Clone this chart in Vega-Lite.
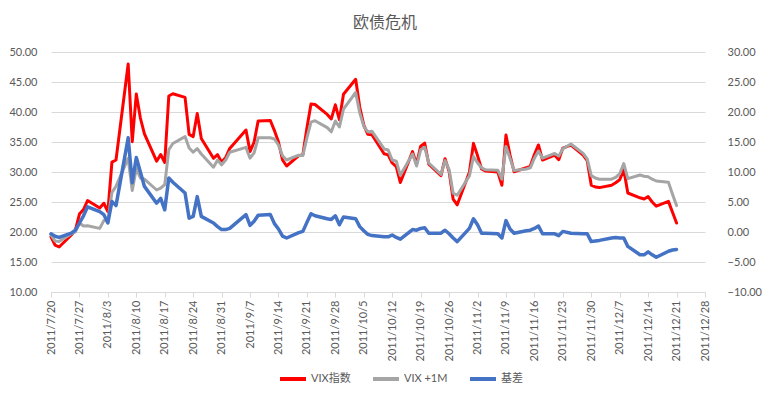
{
  "$schema": "https://vega.github.io/schema/vega-lite/v6.json",
  "width": 654,
  "height": 240,
  "autosize": "none",
  "padding": {"left": 51, "top": 52, "right": 65, "bottom": 105},
  "background": "white",
  "title": {"text": "欧债危机", "font": "Noto Sans CJK SC", "fontSize": 16, "fontWeight": "normal", "color": "#595959", "offset": 15, "dx": 7},
  "config": {"view": {"stroke": null}},
  "data": {"values": [
    {"d":"2011/07/20","vix":19.2,"fut":19.5,"basis":-0.3},
    {"d":"2011/07/21","vix":17.8,"fut":18.5,"basis":-0.7},
    {"d":"2011/07/22","vix":17.5,"fut":18.4,"basis":-0.9},
    {"d":"2011/07/25","vix":19.5,"fut":19.7,"basis":-0.2},
    {"d":"2011/07/26","vix":20.3,"fut":20.0,"basis":0.3},
    {"d":"2011/07/27","vix":22.98,"fut":21.5,"basis":1.5},
    {"d":"2011/07/28","vix":23.74,"fut":21.0,"basis":2.7},
    {"d":"2011/07/29","vix":25.25,"fut":21.05,"basis":4.2},
    {"d":"2011/08/01","vix":23.99,"fut":20.6,"basis":3.4},
    {"d":"2011/08/02","vix":24.79,"fut":21.9,"basis":2.9},
    {"d":"2011/08/03","vix":23.38,"fut":21.9,"basis":1.5},
    {"d":"2011/08/04","vix":31.66,"fut":26.6,"basis":5.1},
    {"d":"2011/08/05","vix":32.0,"fut":27.6,"basis":4.4},
    {"d":"2011/08/08","vix":48.0,"fut":32.3,"basis":15.7},
    {"d":"2011/08/09","vix":35.06,"fut":26.9,"basis":8.2},
    {"d":"2011/08/10","vix":42.99,"fut":30.6,"basis":12.4},
    {"d":"2011/08/11","vix":39.0,"fut":29.0,"basis":10.0},
    {"d":"2011/08/12","vix":36.36,"fut":28.8,"basis":7.6},
    {"d":"2011/08/15","vix":31.8,"fut":27.0,"basis":4.8},
    {"d":"2011/08/16","vix":32.91,"fut":27.3,"basis":5.6},
    {"d":"2011/08/17","vix":31.58,"fut":27.9,"basis":3.7},
    {"d":"2011/08/18","vix":42.67,"fut":33.7,"basis":9.0},
    {"d":"2011/08/19","vix":43.05,"fut":34.75,"basis":8.3},
    {"d":"2011/08/22","vix":42.44,"fut":35.9,"basis":6.5},
    {"d":"2011/08/23","vix":36.27,"fut":34.0,"basis":2.3},
    {"d":"2011/08/24","vix":35.9,"fut":33.3,"basis":2.6},
    {"d":"2011/08/25","vix":39.76,"fut":33.9,"basis":5.9},
    {"d":"2011/08/26","vix":35.59,"fut":33.0,"basis":2.6},
    {"d":"2011/08/29","vix":32.28,"fut":30.8,"basis":1.5},
    {"d":"2011/08/30","vix":32.89,"fut":32.0,"basis":0.9},
    {"d":"2011/08/31","vix":31.62,"fut":31.2,"basis":0.4},
    {"d":"2011/09/01","vix":32.4,"fut":32.0,"basis":0.4},
    {"d":"2011/09/02","vix":33.92,"fut":33.3,"basis":0.6},
    {"d":"2011/09/06","vix":37.0,"fut":34.1,"basis":2.9},
    {"d":"2011/09/07","vix":33.4,"fut":32.3,"basis":1.1},
    {"d":"2011/09/08","vix":35.0,"fut":33.2,"basis":1.8},
    {"d":"2011/09/09","vix":38.52,"fut":35.7,"basis":2.8},
    {"d":"2011/09/12","vix":38.59,"fut":35.7,"basis":2.9},
    {"d":"2011/09/13","vix":36.9,"fut":35.5,"basis":1.4},
    {"d":"2011/09/14","vix":35.0,"fut":34.5,"basis":0.5},
    {"d":"2011/09/15","vix":32.0,"fut":32.7,"basis":-0.7},
    {"d":"2011/09/16","vix":31.0,"fut":32.0,"basis":-1.0},
    {"d":"2011/09/19","vix":32.73,"fut":32.8,"basis":-0.1},
    {"d":"2011/09/20","vix":32.86,"fut":32.76,"basis":0.1},
    {"d":"2011/09/21","vix":37.32,"fut":35.7,"basis":1.6},
    {"d":"2011/09/22","vix":41.35,"fut":38.3,"basis":3.05},
    {"d":"2011/09/23","vix":41.25,"fut":38.55,"basis":2.7},
    {"d":"2011/09/26","vix":39.6,"fut":37.4,"basis":2.2},
    {"d":"2011/09/27","vix":38.84,"fut":36.7,"basis":2.1},
    {"d":"2011/09/28","vix":41.2,"fut":38.5,"basis":2.7},
    {"d":"2011/09/29","vix":38.7,"fut":37.5,"basis":1.2},
    {"d":"2011/09/30","vix":42.96,"fut":40.46,"basis":2.5},
    {"d":"2011/10/03","vix":45.45,"fut":43.25,"basis":2.2},
    {"d":"2011/10/04","vix":40.82,"fut":39.9,"basis":0.9},
    {"d":"2011/10/05","vix":37.81,"fut":37.6,"basis":0.2},
    {"d":"2011/10/06","vix":36.27,"fut":36.67,"basis":-0.4},
    {"d":"2011/10/07","vix":36.2,"fut":36.8,"basis":-0.6},
    {"d":"2011/10/10","vix":33.04,"fut":33.84,"basis":-0.8},
    {"d":"2011/10/11","vix":32.86,"fut":33.66,"basis":-0.8},
    {"d":"2011/10/12","vix":31.5,"fut":32.0,"basis":-0.5},
    {"d":"2011/10/13","vix":30.9,"fut":31.8,"basis":-0.9},
    {"d":"2011/10/14","vix":28.24,"fut":29.44,"basis":-1.2},
    {"d":"2011/10/17","vix":33.39,"fut":33.0,"basis":0.4},
    {"d":"2011/10/18","vix":31.3,"fut":31.0,"basis":0.3},
    {"d":"2011/10/19","vix":34.3,"fut":33.7,"basis":0.6},
    {"d":"2011/10/20","vix":34.8,"fut":34.1,"basis":0.7},
    {"d":"2011/10/21","vix":31.3,"fut":31.5,"basis":-0.2},
    {"d":"2011/10/24","vix":29.4,"fut":29.6,"basis":-0.2},
    {"d":"2011/10/25","vix":32.22,"fut":31.9,"basis":0.3},
    {"d":"2011/10/26","vix":30.1,"fut":30.4,"basis":-0.3},
    {"d":"2011/10/27","vix":25.46,"fut":26.46,"basis":-1.0},
    {"d":"2011/10/28","vix":24.53,"fut":26.13,"basis":-1.6},
    {"d":"2011/10/31","vix":29.96,"fut":29.36,"basis":0.6},
    {"d":"2011/11/01","vix":34.77,"fut":32.57,"basis":2.2},
    {"d":"2011/11/02","vix":32.74,"fut":31.54,"basis":1.2},
    {"d":"2011/11/03","vix":30.5,"fut":30.7,"basis":-0.2},
    {"d":"2011/11/04","vix":30.16,"fut":30.36,"basis":-0.2},
    {"d":"2011/11/07","vix":30.0,"fut":30.3,"basis":-0.3},
    {"d":"2011/11/08","vix":27.8,"fut":28.8,"basis":-1.0},
    {"d":"2011/11/09","vix":36.16,"fut":34.26,"basis":1.9},
    {"d":"2011/11/10","vix":32.81,"fut":32.3,"basis":0.5},
    {"d":"2011/11/11","vix":30.04,"fut":30.24,"basis":-0.2},
    {"d":"2011/11/14","vix":30.7,"fut":30.5,"basis":0.2},
    {"d":"2011/11/15","vix":31.0,"fut":30.7,"basis":0.3},
    {"d":"2011/11/16","vix":32.9,"fut":32.3,"basis":0.6},
    {"d":"2011/11/17","vix":34.51,"fut":33.5,"basis":1.0},
    {"d":"2011/11/18","vix":32.0,"fut":32.3,"basis":-0.3},
    {"d":"2011/11/21","vix":32.8,"fut":33.1,"basis":-0.3},
    {"d":"2011/11/22","vix":32.05,"fut":32.65,"basis":-0.6},
    {"d":"2011/11/23","vix":33.98,"fut":33.88,"basis":0.1},
    {"d":"2011/11/25","vix":34.47,"fut":34.67,"basis":-0.2},
    {"d":"2011/11/28","vix":32.8,"fut":33.1,"basis":-0.3},
    {"d":"2011/11/29","vix":31.9,"fut":32.2,"basis":-0.3},
    {"d":"2011/11/30","vix":27.8,"fut":29.4,"basis":-1.6},
    {"d":"2011/12/01","vix":27.5,"fut":29.0,"basis":-1.5},
    {"d":"2011/12/02","vix":27.4,"fut":28.8,"basis":-1.4},
    {"d":"2011/12/05","vix":27.8,"fut":28.8,"basis":-1.0},
    {"d":"2011/12/06","vix":28.2,"fut":29.1,"basis":-0.9},
    {"d":"2011/12/07","vix":28.7,"fut":29.7,"basis":-1.0},
    {"d":"2011/12/08","vix":30.4,"fut":31.4,"basis":-1.0},
    {"d":"2011/12/09","vix":26.5,"fut":28.9,"basis":-2.4},
    {"d":"2011/12/12","vix":25.7,"fut":29.5,"basis":-3.8},
    {"d":"2011/12/13","vix":25.5,"fut":29.3,"basis":-3.8},
    {"d":"2011/12/14","vix":25.9,"fut":29.2,"basis":-3.3},
    {"d":"2011/12/15","vix":25.0,"fut":28.8,"basis":-3.8},
    {"d":"2011/12/16","vix":24.3,"fut":28.5,"basis":-4.2},
    {"d":"2011/12/19","vix":25.1,"fut":28.3,"basis":-3.2},
    {"d":"2011/12/20","vix":23.3,"fut":26.3,"basis":-3.0},
    {"d":"2011/12/21","vix":21.5,"fut":24.4,"basis":-2.9}
  ]},
  "encoding": {
    "x": {
      "field": "d", "type": "temporal",
      "scale": {"domain": [{"year": 2011, "month": 7, "date": 20}, {"year": 2011, "month": 12, "date": 28}]},
      "axis": {
        "title": null, "grid": false, "format": "%Y/%-m/%-d", "labelAngle": 270,
        "values": [
          {"year": 2011, "month": 7, "date": 20}, {"year": 2011, "month": 7, "date": 27},
          {"year": 2011, "month": 8, "date": 3}, {"year": 2011, "month": 8, "date": 10},
          {"year": 2011, "month": 8, "date": 17}, {"year": 2011, "month": 8, "date": 24},
          {"year": 2011, "month": 8, "date": 31}, {"year": 2011, "month": 9, "date": 7},
          {"year": 2011, "month": 9, "date": 14}, {"year": 2011, "month": 9, "date": 21},
          {"year": 2011, "month": 9, "date": 28}, {"year": 2011, "month": 10, "date": 5},
          {"year": 2011, "month": 10, "date": 12}, {"year": 2011, "month": 10, "date": 19},
          {"year": 2011, "month": 10, "date": 26}, {"year": 2011, "month": 11, "date": 2},
          {"year": 2011, "month": 11, "date": 9}, {"year": 2011, "month": 11, "date": 16},
          {"year": 2011, "month": 11, "date": 23}, {"year": 2011, "month": 11, "date": 30},
          {"year": 2011, "month": 12, "date": 7}, {"year": 2011, "month": 12, "date": 14},
          {"year": 2011, "month": 12, "date": 21}, {"year": 2011, "month": 12, "date": 28}
        ],
        "domainColor": "#d9d9d9", "tickColor": "#d9d9d9", "tickSize": 5,
        "labelFont": "Lato", "labelFontSize": 11, "labelColor": "#595959", "labelPadding": 3, "labelOverlap": false
      }
    },
    "color": {
      "field": "series", "type": "nominal",
      "scale": {"domain": ["vix", "fut", "basis"], "range": ["#FF0000", "#A5A5A5", "#4472C4"]},
      "legend": {
        "title": null, "orient": "none", "legendX": 227, "legendY": 312, "direction": "horizontal",
        "symbolType": "stroke", "symbolStrokeWidth": 4, "symbolSize": 676,
        "labelExpr": "datum.value == 'vix' ? 'VIX指数' : datum.value == 'fut' ? 'VIX +1M' : '基差'",
        "labelFont": "Lato, Noto Sans CJK SC", "labelFontSize": 11, "labelColor": "#595959",
        "columnPadding": 14, "labelOffset": 3
      }
    }
  },
  "layer": [
    {
      "encoding": {
        "y": {
          "field": "value", "type": "quantitative",
          "scale": {"domain": [10, 50], "nice": false, "zero": false},
          "axis": {
            "title": null, "values": [10, 15, 20, 25, 30, 35, 40, 45, 50], "format": ".2f",
            "grid": true, "gridColor": "#d9d9d9", "domain": false, "ticks": false,
            "labelFont": "Lato", "labelFontSize": 11, "labelColor": "#595959", "labelPadding": 14
          }
        }
      },
      "layer": [
        {
          "transform": [{"fold": ["vix"], "as": ["series", "value"]}],
          "mark": {"type": "line", "strokeWidth": 3, "strokeJoin": "round", "strokeCap": "round"}
        },
        {
          "transform": [{"fold": ["fut"], "as": ["series", "value"]}],
          "mark": {"type": "line", "strokeWidth": 3, "strokeJoin": "round", "strokeCap": "round"}
        }
      ]
    },
    {
      "transform": [{"fold": ["basis"], "as": ["series", "value"]}],
      "mark": {"type": "line", "strokeWidth": 3.5, "strokeJoin": "round", "strokeCap": "round"},
      "encoding": {
        "y": {
          "field": "value", "type": "quantitative",
          "scale": {"domain": [-10, 30], "nice": false, "zero": false},
          "axis": {
            "title": null, "orient": "right", "values": [-10, -5, 0, 5, 10, 15, 20, 25, 30], "format": ".2f",
            "grid": false, "domain": false, "ticks": false,
            "labelFont": "Lato", "labelFontSize": 11, "labelColor": "#595959", "labelPadding": 22
          }
        }
      }
    }
  ],
  "resolve": {"scale": {"y": "independent"}}
}
